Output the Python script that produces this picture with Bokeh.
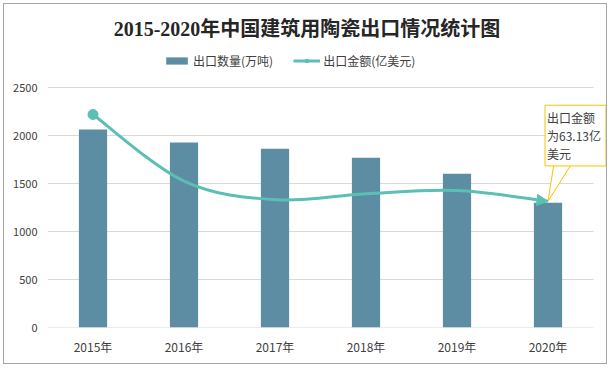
from bokeh.plotting import figure
from bokeh.models import (Range1d, FixedTicker, Label, Legend, LegendItem,
                          Arrow, NormalHead)
from bokeh.embed import file_html
from bokeh.resources import INLINE
import numpy as np

# ---- data ----
years = ["2015年", "2016年", "2017年", "2018年", "2019年", "2020年"]
volume = [2062, 1927, 1862, 1768, 1601, 1300]        # 出口数量(万吨)
amount = [106.5, 73.2, 63.9, 66.9, 68.5, 63.13]      # 出口金额(亿美元)
y_ticks = [0, 500, 1000, 1500, 2000, 2500]
amt_max = 120                                        # hidden secondary axis max
title_text = "2015-2020年中国建筑用陶瓷出口情况统计图"
callout_text = "出口金额\n为63.13亿\n美元"

# ---- style ----
BAR = "#5C8DA2"
TEAL = "#5CBFB4"
TXT = "#404040"
GRID = "#D9D9D9"
CJK = "Noto Sans CJK SC"

W, H = 604, 361                 # canvas (inside a 1px css border)
FL, FB = 43, 38                 # left / bottom borders
FW, FH = W - FL, H - FB         # frame covers top & right area too
CAT_PX = 91.0                   # pixel width of one category
VAL_PX = 240.0                  # pixel height of the 0..2500 value span
n = len(years)

x0r = -0.5
x1r = x0r + FW / CAT_PX
y1r = y_ticks[-1] * FH / VAL_PX
a1r = amt_max * FH / VAL_PX

p = figure(width=W, height=H, output_backend="svg", toolbar_location=None,
           x_range=Range1d(x0r, x1r), y_range=Range1d(0, y1r),
           min_border_left=FL, min_border_top=0,
           min_border_right=0, min_border_bottom=FB)
p.extra_y_ranges = {"amt": Range1d(0, a1r)}
p.outline_line_color = None
p.background_fill_color = "white"
p.border_fill_color = "white"
p.styles = {"border": "1px solid #A6A6A6", "margin": "3px"}

xs = np.arange(n, dtype=float)

# axes
p.xaxis.ticker = FixedTicker(ticks=list(xs))
p.xaxis.major_label_overrides = {int(i): y for i, y in enumerate(years)}
p.xaxis.major_label_text_font = CJK
p.xaxis.major_label_text_font_size = "12px"
p.xaxis.major_label_text_color = TXT
p.xaxis.major_label_standoff = 10
p.xaxis.axis_line_color = None
p.xaxis.major_tick_line_color = None
p.xaxis.minor_tick_line_color = None
p.xaxis.major_tick_out = 0
p.xaxis.major_tick_in = 0

p.yaxis.ticker = FixedTicker(ticks=y_ticks)
p.yaxis.major_label_text_font = CJK
p.yaxis.major_label_text_font_size = "11px"
p.yaxis.major_label_text_color = TXT
p.yaxis.major_label_standoff = 10
p.yaxis.axis_line_color = None
p.yaxis.major_tick_line_color = None
p.yaxis.minor_tick_line_color = None
p.yaxis.major_tick_out = 0
p.yaxis.major_tick_in = 0

p.xgrid.visible = False
p.ygrid.visible = False

# gridlines over the category span only
p.segment(x0=[xs[0] - 0.5] * len(y_ticks), x1=[xs[-1] + 0.5] * len(y_ticks),
          y0=y_ticks, y1=y_ticks, line_color=GRID, line_width=1)

# bars
bars = p.vbar(x=xs, top=volume, width=0.31, fill_color=BAR, line_color=None)

# smoothed line (Catmull-Rom -> Bezier)
ya = np.array(amount, dtype=float)
pxx = np.concatenate([[xs[0]], xs, [xs[-1]]])
pyy = np.concatenate([[ya[0]], ya, [ya[-1]]])
cx0 = pxx[1:n] + (pxx[2:n + 1] - pxx[0:n - 1]) / 6
cy0 = pyy[1:n] + (pyy[2:n + 1] - pyy[0:n - 1]) / 6
cx1 = pxx[2:n + 1] - (pxx[3:n + 2] - pxx[1:n]) / 6
cy1 = pyy[2:n + 1] - (pyy[3:n + 2] - pyy[1:n]) / 6
p.bezier(x0=xs[:-1], y0=ya[:-1], x1=xs[1:], y1=ya[1:],
         cx0=cx0, cy0=cy0, cx1=cx1, cy1=cy1,
         line_color=TEAL, line_width=3, y_range_name="amt")
dot = p.scatter(x=[xs[0]], y=[ya[0]], size=10, color=TEAL, y_range_name="amt")
# single-point line: draws nothing on the plot, gives the legend its line swatch
leg_line = p.line(x=[xs[0]], y=[ya[0]], line_color=TEAL, line_width=3,
                  y_range_name="amt")
xe, ye = xs[-1], ya[-1]
p.add_layout(Arrow(end=NormalHead(size=11, fill_color=TEAL, line_color=TEAL),
                   x_start=xe - (xe - cx1[-1]) * 0.6, y_start=ye - (ye - cy1[-1]) * 0.6,
                   x_end=xe, y_end=ye, line_color=TEAL, line_width=3,
                   y_range_name="amt"))

legend = Legend(items=[LegendItem(label="出口数量(万吨)", renderers=[bars]),
                       LegendItem(label="出口金额(亿美元)", renderers=[leg_line, dot])],
                orientation="horizontal", location=(116, 258),
                padding=0, margin=0, spacing=20, label_standoff=3,
                glyph_width=27, glyph_height=9, label_height=16,
                label_text_font=CJK, label_text_font_size="12px",
                label_text_color=TXT, border_line_color=None,
                background_fill_alpha=0)
p.add_layout(legend, "center")

# title
p.add_layout(Label(x=259.5, y=FH - 24, x_units="screen", y_units="screen",
                   text=title_text, text_align="center", text_baseline="middle",
                   text_font="'Liberation Serif', 'Noto Sans CJK SC'",
                   text_font_size="20px", text_font_style="bold", text_color="#262626"))

# callout
sxp = 1.0 / CAT_PX                 # x data units per pixel
syp = amt_max / VAL_PX             # amount units per pixel
p.patch(x=[xe + 6 * sxp, xe, xe + 24 * sxp],
        y=[ye + 38 * syp, ye, ye + 38 * syp],
        fill_color="white", line_color="#FFC000", line_width=1, y_range_name="amt")
p.add_layout(Label(x=xe, y=ye, y_range_name="amt", x_offset=-3, y_offset=96,
                   text=callout_text, text_align="left", text_baseline="top",
                   text_font=CJK, text_font_size="12px", text_color=TXT,
                   text_line_height=1.05, padding=(2, 5, 4, 4),
                   border_line_color="#FFC000", background_fill_color="white"))

open("out.html", "w").write(file_html(p, INLINE))
